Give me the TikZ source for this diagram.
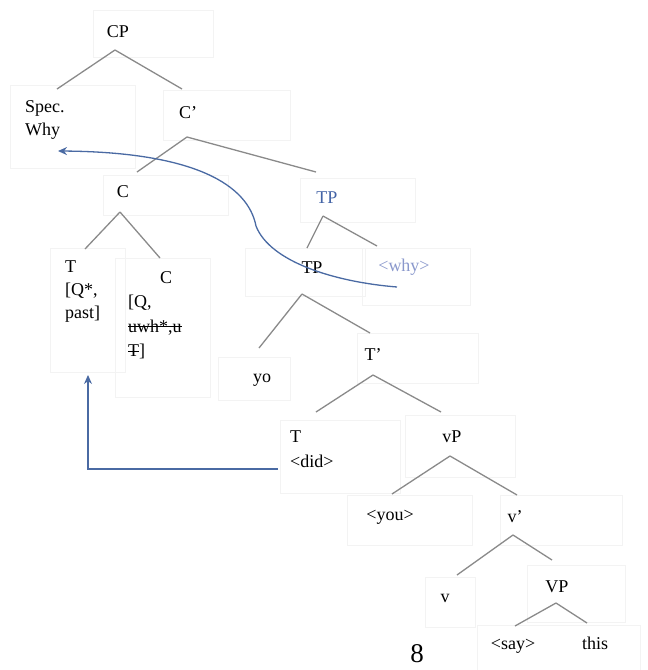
\documentclass[tikz,border=0pt]{standalone}
\usepackage{fontspec}
\setmainfont{Liberation Serif}
\usetikzlibrary{calc,arrows.meta}
\definecolor{linegray}{HTML}{8A8A8A}
\definecolor{arrowblue}{HTML}{4A6AA3}
\definecolor{tpblue}{HTML}{4464A6}
\definecolor{whyblue}{HTML}{8A98CC}
\definecolor{boxgray}{HTML}{F3F3F3}
\newsavebox\strkbox
\newcommand\mystrk[1]{\sbox\strkbox{#1}\rlap{\rule[0.28em]{\wd\strkbox}{0.7pt}}\usebox\strkbox}
\begin{document}
\begin{tikzpicture}[x=1pt,y=-1pt,
  lbl/.style={inner sep=0pt,font=\fontsize{18}{23}\selectfont,align=left},
  tree/.style={draw=linegray,line width=1.3pt},
  mover/.style={draw=arrowblue,line width=1.3pt,-{Stealth[length=9pt,width=8pt]}},
  faint/.style={draw=boxgray,line width=0.7pt}]
\useasboundingbox (0,0) rectangle (648,670);
% faint text-box outlines
\draw[faint] (93,10) rectangle (213,57);
\draw[faint] (10,85) rectangle (135,168);
\draw[faint] (163,90) rectangle (290,140);
\draw[faint] (103,175) rectangle (228,215);
\draw[faint] (300,178) rectangle (415,222);
\draw[faint] (245,248) rectangle (365,296);
\draw[faint] (362,248) rectangle (470,305);
\draw[faint] (50,248) rectangle (125,372);
\draw[faint] (115,258) rectangle (210,397);
\draw[faint] (218,357) rectangle (290,400);
\draw[faint] (357,333) rectangle (478,383);
\draw[faint] (280,420) rectangle (400,493);
\draw[faint] (405,415) rectangle (515,477);
\draw[faint] (347,495) rectangle (472,545);
\draw[faint] (500,495) rectangle (622,545);
\draw[faint] (425,577) rectangle (475,627);
\draw[faint] (527,565) rectangle (625,622);
\draw[faint] (477,625) rectangle (640,670);
% labels
\node[lbl] (cp) at (118,32) {CP};
\node[lbl,anchor=north west] (spec) at (25,100) {Spec.\\Why};
\node[lbl] (cbar) at (188,113) {C'};
\node[lbl] (c1) at (123,192) {C};
\node[lbl,text=tpblue] (tpb) at (327,198) {TP};
\node[lbl] (tp) at (312,268) {TP};
\node[lbl,text=whyblue] (why) at (404,267) {<why>};
\node[lbl,anchor=north west] (tq) at (65,261) {T\\{}[Q*,\\past]};
\node[lbl,anchor=north west,font=\fontsize{18}{24.5}\selectfont] (cq) at (128,271) {\hspace{32pt}C\\{}[Q,\\\mystrk{uwh*,u}\\\mystrk{T}]};
\node[lbl] (yo) at (262,380) {yo};
\node[lbl] (tbar) at (373,355) {T'};
\node[lbl,anchor=north west,font=\fontsize{18}{25}\selectfont] (tdid) at (290,431) {T\\<did>};
\node[lbl] (vp) at (452,437) {vP};
\node[lbl] (you) at (390,517) {<you>};
\node[lbl] (vbar) at (515,517) {v'};
\node[lbl] (v) at (445,598) {v};
\node[lbl] (vpp) at (557,587) {VP};
\node[lbl] (say) at (513,646) {<say>};
\node[lbl] (this) at (595,643) {this};
\node[inner sep=0pt,font=\fontsize{27}{30}\selectfont] (eight) at (417,654) {8};
% tree branches
\draw[tree] ($(cp)+(-3,18)$) -- ($(spec.north west)+(32,-11)$);
\draw[tree] ($(cp)+(-3,18)$) -- ($(cbar)+(-6,-24)$);
\draw[tree] ($(cbar)+(-1,24)$) -- ($(c1)+(14,-20)$);
\draw[tree] ($(cbar)+(-1,24)$) -- ($(tpb)+(-11,-26)$);
\draw[tree] ($(c1)+(-3,20)$) -- ($(tq.north west)+(20,-12)$);
\draw[tree] ($(c1)+(-3,20)$) -- ($(cq.north west)+(32,-13)$);
\draw[tree] ($(tpb)+(-4,18)$) -- ($(tp)+(-5,-20)$);
\draw[tree] ($(tpb)+(-4,18)$) -- ($(why)+(-27,-21)$);
\draw[tree] ($(tp)+(-10,26)$) -- ($(yo)+(-3,-32)$);
\draw[tree] ($(tp)+(-10,26)$) -- ($(tbar)+(-3,-22)$);
\draw[tree] ($(tbar)+(0,20)$) -- ($(tdid.north west)+(26,-19)$);
\draw[tree] ($(tbar)+(0,20)$) -- ($(vp)+(-11,-25)$);
\draw[tree] ($(vp)+(-2,19)$) -- ($(you)+(2,-23)$);
\draw[tree] ($(vp)+(-2,19)$) -- ($(vbar)+(2,-22)$);
\draw[tree] ($(vbar)+(-2,18)$) -- ($(v)+(12,-23)$);
\draw[tree] ($(vbar)+(-2,18)$) -- ($(vpp)+(-5,-27)$);
\draw[tree] ($(vpp)+(-1,16)$) -- ($(say)+(2,-20)$);
\draw[tree] ($(vpp)+(-1,16)$) -- ($(this)+(-8,-20)$);
% movement arrows
\draw[mover] ($(why)+(-7,20)$) .. controls (335,282) and (270,262) .. (256,226)
  .. controls (248,185) and (195,152) .. ($(spec.north west)+(33,51)$);
\draw[mover] ($(tdid.north west)+(-12,38)$) -| ($(tq.north west)+(23,114)$);
\end{tikzpicture}
\end{document}
